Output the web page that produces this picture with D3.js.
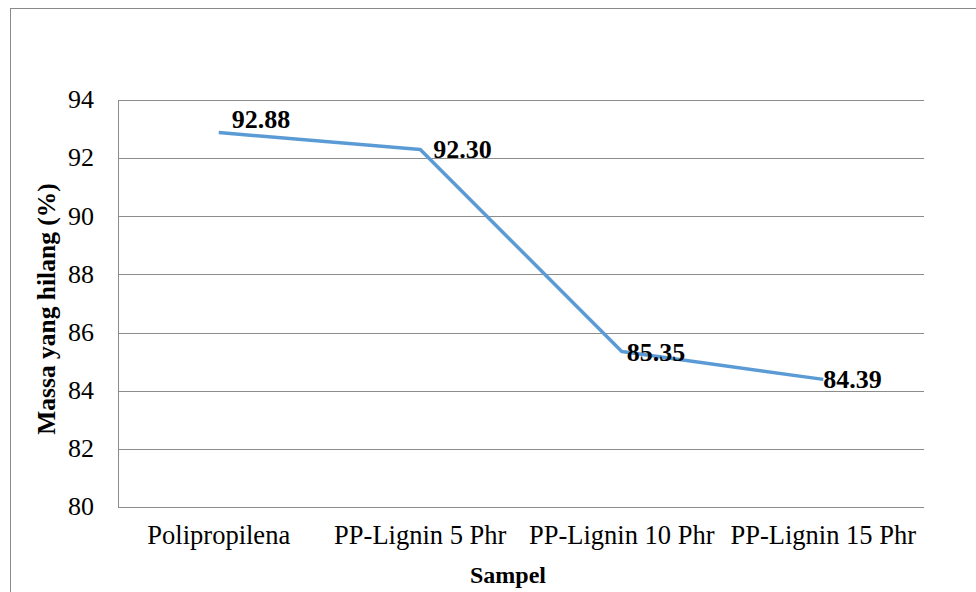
<!DOCTYPE html>
<html><head><meta charset="utf-8">
<script src="https://cdn.jsdelivr.net/npm/d3@7"></script>
<style>body{margin:0;background:#fff}svg{display:block}</style>
</head><body>
<script>
const categories = ["Polipropilena","PP-Lignin 5 Phr","PP-Lignin 10 Phr","PP-Lignin 15 Phr"];
const values = [92.88, 92.30, 85.35, 84.39];
const labels = ["92.88","92.30","85.35","84.39"];
const yTicks = [80,82,84,86,88,90,92,94];
const labelDx = [13, 13, 5, 0];
const labelDy = [-5, 9, 9.5, 8.5];

(function(){
const W = 976, H = 592;
const svg = d3.select("body").append("svg").attr("width", W).attr("height", H);
const font = '"Liberation Serif", "Times New Roman", Tinos, serif';

svg.append("rect").attr("x",10.5).attr("y",8.5).attr("width",980).attr("height",600)
  .attr("fill","#fff").attr("stroke","#898989").attr("stroke-width",1);

const pL = 118, pR = 924, pT = 100, pB = 507;
const x = d3.scaleBand().domain(categories).range([pL,pR]);
const y = d3.scaleLinear().domain([80,94]).range([pB,pT]);

const grid = svg.append("g");
grid.selectAll("line").data(yTicks).join("line")
  .attr("x1",pL).attr("x2",pR)
  .attr("y1",d=>Math.round(y(d))+0.5).attr("y2",d=>Math.round(y(d))+0.5)
  .attr("stroke","#8c8c8c").attr("stroke-width",1);
svg.append("line").attr("x1",pL+0.5).attr("x2",pL+0.5).attr("y1",pT).attr("y2",pB+0.5)
  .attr("stroke","#8c8c8c");

const yAxis = d3.axisLeft(y).tickValues(yTicks).tickSize(0).tickPadding(24).tickFormat(d3.format("d"));
const ga = svg.append("g").attr("transform",`translate(${pL},0)`).call(yAxis);
ga.select(".domain").remove();
ga.attr("font-family",null).attr("font-size",null);
ga.selectAll("text").style("font-family",font).style("font-size","26px").attr("fill","#000").attr("dy","0.3em");

const xAxis = d3.axisBottom(x).tickSize(0);
const gx = svg.append("g").attr("transform",`translate(0,${pB})`).call(xAxis);
gx.select(".domain").remove();
gx.attr("font-family",null).attr("font-size",null);
gx.selectAll("text").style("font-family",font).style("font-size","26.5px").attr("fill","#000")
  .attr("y",37).attr("dy",0);

const pts = categories.map((c,i)=>[x(c)+x.bandwidth()/2, y(values[i])]);
svg.append("path").attr("d", d3.line()(pts)).attr("fill","none")
  .attr("stroke","#5b9bd5").attr("stroke-width",3.5).attr("stroke-linejoin","round");

svg.append("g").selectAll("text").data(labels).join("text")
  .attr("x",(d,i)=>pts[i][0]+labelDx[i]).attr("y",(d,i)=>pts[i][1]+labelDy[i])
  .style("font-family",font).style("font-size","26px").style("font-weight","bold").attr("fill","#000")
  .text(d=>d);

svg.append("text").attr("x",508).attr("y",583).attr("text-anchor","middle")
  .style("font-family",font).style("font-size","24px").style("font-weight","bold").text("Sampel");
svg.append("text").attr("transform",`translate(55,309) rotate(-90)`).attr("text-anchor","middle")
  .style("font-family",font).style("font-size","25.5px").style("font-weight","bold").text("Massa yang hilang (%)");
})();
</script>
</body></html>
